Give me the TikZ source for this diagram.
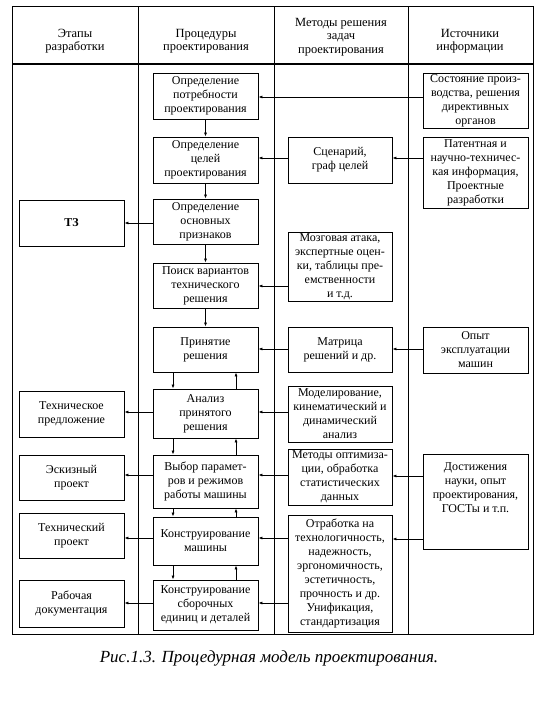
\documentclass[tikz,border=0pt]{standalone}
\usepackage{fontspec}
\setmainfont{Liberation Serif}
\usetikzlibrary{arrows.meta}
\tikzset{
  bx/.style={draw, line width=0.8pt, rectangle, inner sep=1pt, align=center, font=\fontsize{12}{14}\selectfont},
  tx/.style={inner sep=1pt, align=center, font=\fontsize{12}{14}\selectfont},
  ar/.style={line width=0.7pt, -{Latex[length=4pt,width=3pt]}},
  frame/.style={line width=1pt},
  hd/.style={align=center, font=\fontsize{12.5}{13.5}\selectfont}
}
\newcommand{\bxat}[6]{\node[bx, minimum width=#3pt, minimum height=#4pt] (#5) at (#1,#2) {#6};}
\begin{document}
\begin{tikzpicture}[x=1pt,y=-1pt]
\useasboundingbox (0,0) rectangle (540,708);
% frame
\draw[frame] (12,7) rectangle (533,634);
\draw[line width=2pt] (12,64) -- (533,64);
\draw[frame] (138,7) -- (138,634);
\draw[frame] (274,7) -- (274,634);
\draw[frame] (408,7) -- (408,634);
% headers
\node[hd] (h1) at (75,41) {Этапы\\разработки};
\node[hd] (h2) at (206,41) {Процедуры\\проектирования};
\node[hd] (h3) at (341,37) {Методы решения\\задач\\проектирования};
\node[hd] (h4) at (470,41) {Источники\\информации};
% column 1
\bxat{71.5}{223}{105}{46}{s1}{\textbf{ТЗ}}
\bxat{71.5}{414}{105}{46}{s2}{Техническое\\предложение}
\bxat{71.5}{477.5}{105}{45}{s3}{Эскизный\\проект}
\bxat{71.5}{535.5}{105}{45}{s4}{Технический\\проект}
\bxat{71.5}{603.5}{105}{47}{s5}{Рабочая\\документация}
% column 2
\bxat{205.5}{96}{105}{46}{p1}{Определение\\потребности\\проектирования}
\bxat{205.5}{160}{105}{46}{p2}{Определение\\целей\\проектирования}
\bxat{205.5}{221.5}{105}{45}{p3}{Определение\\основных\\признаков}
\bxat{205.5}{285.5}{105}{45}{p4}{Поиск вариантов\\технического\\решения}
\bxat{205.5}{349.5}{105}{45}{p5}{Принятие\\решения}
\bxat{205.5}{413.5}{105}{49}{p6}{Анализ\\принятого\\решения}
\bxat{205.5}{481.5}{105}{53}{p7}{Выбор парамет-\\ров и режимов\\работы машины}
\bxat{205.5}{541}{105}{48}{p8}{Конструирование\\машины}
\bxat{205.5}{605}{105}{50}{p9}{Конструирование\\сборочных\\единиц и деталей}
% column 3
\bxat{340}{160}{104}{46}{m1}{Сценарий,\\граф целей}
\bxat{340}{266.5}{104}{69}{m2}{Мозговая атака,\\экспертные оцен-\\ки, таблицы пре-\\емственности\\и т.д.}
\bxat{340}{349.5}{104}{45}{m3}{Матрица\\решений и др.}
\bxat{340}{414}{104}{56}{m4}{Моделирование,\\кинематический и\\динамический\\анализ}
\bxat{340}{477}{104}{56}{m5}{Методы оптимиза-\\ции, обработка\\статистических\\данных}
\bxat{340}{573.5}{104}{117}{m6}{Отработка на\\технологичность,\\надежность,\\эргономичность,\\эстетичность,\\прочность и др.\\Унификация,\\стандартизация}
% column 4
\bxat{475.5}{100.5}{105}{55}{i1}{Состояние произ-\\водства, решения\\директивных\\органов}
\bxat{475.5}{172.5}{105}{71}{i2}{Патентная и\\научно-техничес-\\кая информация,\\Проектные\\разработки}
\bxat{475.5}{350}{105}{46}{i3}{Опыт\\эксплуатации\\машин}
\bxat{475.5}{501.5}{105}{95}{i4}{}
\node[tx, anchor=north] (i4t) at ([yshift=-8pt]i4.north) {Достижения\\науки, опыт\\проектирования,\\ГОСТы и т.п.};
% vertical arrows
\draw[ar] (p1) -- (p2);
\draw[ar] (p2) -- (p3);
\draw[ar] (p3) -- (p4);
\draw[ar] (p4) -- (p5);
\foreach \a/\b in {p5/p6,p6/p7,p7/p8,p8/p9}{
  \draw[ar] (\a.south -| 173,0) -- (\b.north -| 173,0);
  \draw[ar] (\b.north -| 236,0) -- (\a.south -| 236,0);
}
% horizontal arrows
\draw[ar] (i1.west |- 0,97) -- (p1.east |- 0,97);
\draw[ar] (i2.west |- 0,158) -- (m1.east |- 0,158);
\draw[ar] (m1.west |- 0,158) -- (p2.east |- 0,158);
\draw[ar] (m2.west |- 0,286) -- (p4.east |- 0,286);
\draw[ar] (p3.west |- 0,223) -- (s1.east |- 0,223);
\draw[ar] (i3.west |- 0,349) -- (m3.east |- 0,349);
\draw[ar] (m3.west |- 0,349) -- (p5.east |- 0,349);
\draw[ar] (m4.west |- 0,412) -- (p6.east |- 0,412);
\draw[ar] (p6.west |- 0,412) -- (s2.east |- 0,412);
\draw[ar] (i4.west |- 0,476) -- (m5.east |- 0,476);
\draw[ar] (m5.west |- 0,475) -- (p7.east |- 0,475);
\draw[ar] (p7.west |- 0,475) -- (s3.east |- 0,475);
\draw[ar] (i4.west |- 0,539) -- (m6.east |- 0,539);
\draw[ar] (m6.west |- 0,538) -- (p8.east |- 0,538);
\draw[ar] (p8.west |- 0,538) -- (s4.east |- 0,538);
\draw[ar] (m6.west |- 0,603) -- (p9.east |- 0,603);
\draw[ar] (p9.west |- 0,603) -- (s5.east |- 0,603);
% caption
\node[font=\fontsize{17}{20}\selectfont\itshape] (cap) at (269,658) {Рис.1.3. Процедурная модель проектирования.};
\end{tikzpicture}
\end{document}
